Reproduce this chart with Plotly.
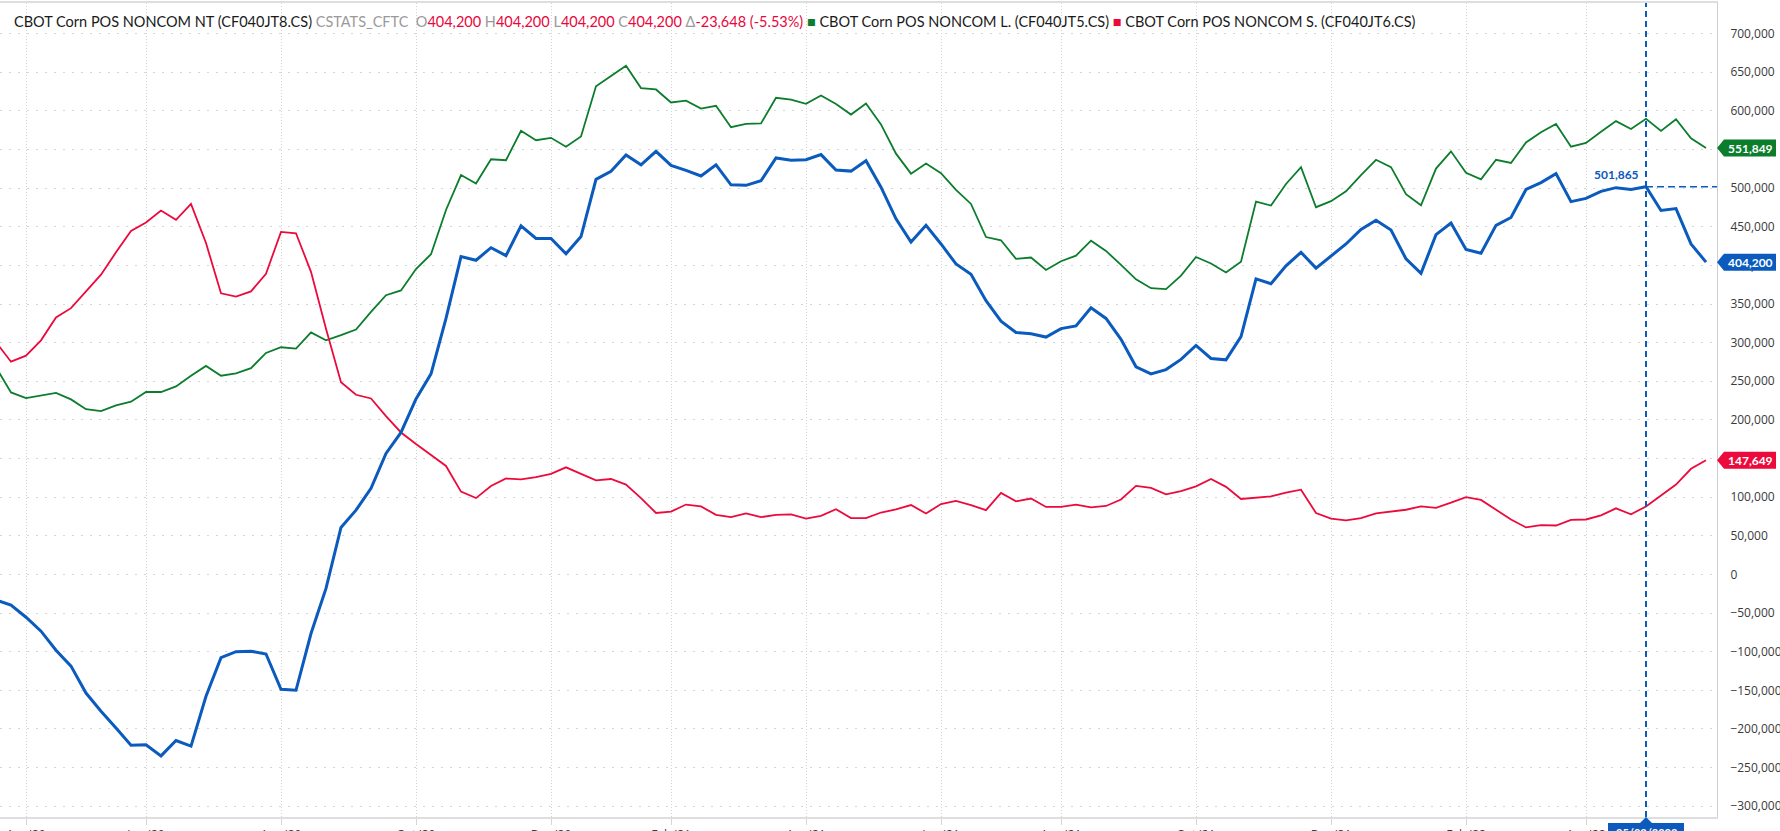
import pandas as pd
import plotly.graph_objects as go

# ---------------- data (weekly, Tuesdays) ----------------
dates = pd.date_range("2020-03-24", periods=115, freq="7D")

net_positions = [
    -33000, -39800, -55400, -73500, -98200, -118700, -153600, -177100, -198800, -221100,
    -220500, -234900, -215000, -222300, -157800, -107800, -100000, -99400, -103000, -148800,
    -150000, -76500, -18100, 60800, 83100, 111400, 156600, 183700, 227100, 259600,
    331300, 411400, 406600, 422900, 412600, 451200, 434900, 434900, 415100, 437300,
    511400, 521700, 542800, 530100, 547600, 529500, 522900, 515700, 530100, 504200,
    503600, 509600, 539100, 536100, 536700, 543400, 523500, 522000, 535500, 501200,
    460200, 430100, 451800, 427700, 401800, 388500, 354200, 327700, 313200, 311400,
    307200, 318100, 321700, 345200, 331300, 304200, 268700, 259600, 265100, 278300,
    296400, 279500, 277700, 307800, 382500, 376200, 399400, 416900, 396400, 412000,
    427700, 446400, 458400, 445800, 408400, 389800, 439800, 454800, 420500, 415700,
    451800, 462000, 498200, 507200, 518700, 482500, 486700, 495800, 500600, 498200,
    501865, 471100, 473500, 427848, 404200,
]

long_positions = [
    268000, 235500, 228300, 231900, 234900, 226500, 213900, 211400, 218700, 223500,
    236100, 236100, 243400, 257200, 269900, 257200, 260200, 266900, 286700, 294000,
    292200, 313200, 303000, 309600, 316900, 339800, 361400, 367500, 395200, 414500,
    471700, 516900, 506000, 537300, 536100, 574100, 562000, 565100, 553600, 566900,
    631900, 645200, 658400, 629500, 627700, 610800, 613200, 603000, 606600, 578900,
    583100, 583700, 616900, 614500, 609000, 619900, 609000, 595200, 609600, 582500,
    544600, 518700, 531900, 519300, 497600, 479500, 436700, 432500, 408400, 410200,
    394000, 405400, 412600, 431900, 418700, 400600, 381900, 370500, 369300, 386700,
    410800, 402400, 390900, 404800, 482500, 477400, 505400, 527100, 475300, 483100,
    495800, 516900, 536700, 527100, 492200, 477700, 525300, 547600, 519900, 511400,
    536700, 532500, 559000, 572300, 583100, 553600, 558400, 572900, 586700, 576500,
    589700, 574100, 589100, 564400, 551849,
]

short_positions = [
    300600, 275300, 283100, 303000, 332500, 344600, 366300, 388000, 416900, 444600,
    455400, 471000, 459000, 479500, 428900, 363800, 359600, 366300, 389200, 443400,
    441600, 391600, 318000, 248800, 232500, 227700, 204800, 183700, 168700, 154800,
    140400, 107200, 98800, 114500, 124100, 122900, 125900, 130100, 138600, 130100,
    121700, 123500, 116300, 98800, 79500, 81300, 90400, 88000, 77100, 74100,
    78900, 74100, 77100, 77700, 72300, 75900, 84300, 72900, 72900, 80100,
    84300, 89800, 78900, 91000, 95200, 89800, 83100, 105400, 94600, 98200,
    87300, 87300, 90400, 86700, 88600, 97000, 114500, 112000, 103600, 107800,
    113900, 123500, 113300, 97600, 99400, 101000, 106000, 109600, 79500, 72300,
    69900, 72900, 78900, 81300, 83700, 88000, 86100, 92800, 100000, 96400,
    84300, 71100, 60800, 63900, 63300, 70500, 71100, 76500, 85500, 77700,
    88000, 102400, 116300, 136700, 147649,
]

tick_dates = ["2020-04-07", "2020-06-02", "2020-08-04", "2020-10-06", "2020-12-08",
              "2021-02-02", "2021-04-06", "2021-06-08", "2021-08-03", "2021-10-05",
              "2021-12-07", "2022-02-08", "2022-04-05"]
tick_labels = ["Apr '20", "Jun '20", "Aug '20", "Oct '20", "Dec '20", "Feb '21", "Apr '21",
               "Jun '21", "Aug '21", "Oct '21", "Dec '21", "Feb '22", "Apr '22"]

cross_date = "2022-05-03"
cross_label = "05/03/2022"
cross_value = 501865

names = ["CBOT Corn POS NONCOM NT (CF040JT8.CS)",
         "CBOT Corn POS NONCOM L. (CF040JT5.CS)",
         "CBOT Corn POS NONCOM S. (CF040JT6.CS)"]

# ---------------- style ----------------
BLUE = "#0a5bbd"
GREEN = "#0b7d2c"
RED = "#ec0a3c"
GRAY_TXT = "#9a9a9a"
Y_RANGE = [-314000, 739600]
ref_day = pd.Timestamp("2020-04-07")
x_start = ref_day - pd.Timedelta(days=26 * 7 / 15)
x_end = ref_day + pd.Timedelta(days=1691 * 7 / 15)

fig = go.Figure()
fig.add_trace(go.Scatter(x=dates, y=long_positions, mode="lines", name=names[1],
                         line=dict(color=GREEN, width=1.8), hoverinfo="skip"))
fig.add_trace(go.Scatter(x=dates, y=short_positions, mode="lines", name=names[2],
                         line=dict(color=RED, width=1.8), hoverinfo="skip"))
fig.add_trace(go.Scatter(x=dates, y=net_positions, mode="lines", name=names[0],
                         line=dict(color=BLUE, width=3), hoverinfo="skip"))

tick_font = dict(family="Open Sans", size=12, color="#3a3a3a")
fig.update_layout(
    width=1780, height=831, autosize=False,
    margin=dict(l=0, r=63, t=3, b=14, autoexpand=False),
    paper_bgcolor="white", plot_bgcolor="white",
    showlegend=False,
    xaxis=dict(type="date", range=[x_start, x_end], tickmode="array",
               tickvals=tick_dates, ticktext=tick_labels, automargin=False,
               showgrid=True, gridcolor="#d4d4d4", gridwidth=1, griddash="1px,2px",
               showline=True, linecolor="#dedede", linewidth=2, mirror=True,
               ticks="outside", ticklen=6, tickcolor="#d6d6d6", tickwidth=1,
               tickfont=tick_font, zeroline=False),
    yaxis=dict(side="right", range=Y_RANGE, tick0=0, dtick=50000, tickformat=",d",
               automargin=False,
               showgrid=True, gridcolor="#d6d6d6", gridwidth=1, griddash="2px,7px",
               zeroline=False, showline=True, linecolor="#cfcfcf", linewidth=1,
               ticks="", ticklabelstandoff=10, tickfont=tick_font),
)

# ---------------- header / legend text ----------------
red_t = "#e8063c"
header = (
    f"<span style='color:#1a1a1a'>{names[0]}</span> "
    f"<span style='color:{GRAY_TXT}'>CSTATS_CFTC</span>  "
    f"<span style='color:{GRAY_TXT}'>O</span><span style='color:{red_t}'>404,200</span> "
    f"<span style='color:{GRAY_TXT}'>H</span><span style='color:{red_t}'>404,200</span> "
    f"<span style='color:{GRAY_TXT}'>L</span><span style='color:{red_t}'>404,200</span> "
    f"<span style='color:{GRAY_TXT}'>C</span><span style='color:{red_t}'>404,200</span> "
    f"<span style='color:{GRAY_TXT}'>Δ</span><span style='color:{red_t}'>-23,648 (-5.53%)</span> "
    f"<span style='color:{GREEN}'>■</span> <span style='color:#1a1a1a'>{names[1]}</span> "
    f"<span style='color:{RED}'>■</span> <span style='color:#1a1a1a'>{names[2]}</span>"
)
fig.add_annotation(x=0, y=1, xref="paper", yref="paper", xanchor="left", yanchor="middle",
                   xshift=12, yshift=-18, showarrow=False, text=header,
                   font=dict(family="Lato", size=14.5, color="#1a1a1a"))

# ---------------- crosshair ----------------
fig.add_shape(type="line", xref="x", yref="paper", x0=cross_date, x1=cross_date, y0=0, y1=1,
              line=dict(color=BLUE, width=2, dash="6px,4px"), layer="above")
fig.add_shape(type="line", xref="x", yref="y", x0=cross_date, x1=x_end,
              y0=cross_value, y1=cross_value,
              line=dict(color=BLUE, width=1.5, dash="7px,4px"), layer="above")
fig.add_annotation(x=cross_date, y=cross_value, xref="x", yref="y", xanchor="right",
                   yanchor="bottom", xshift=-5, yshift=3, showarrow=False,
                   text=f"<b>{cross_value:,}</b>",
                   font=dict(family="Lato", size=12, color=BLUE))
# date flag below axis
fig.add_shape(type="path", xref="x", yref="paper", xsizemode="pixel", ysizemode="pixel",
              xanchor=cross_date, yanchor=0,
              path="M0,0 L6,-6 L38,-6 L38,-30 L-38,-30 L-38,-6 L-6,-6 Z",
              fillcolor=BLUE, line=dict(width=0), layer="above")
fig.add_annotation(x=cross_date, y=0, xref="x", yref="paper", xanchor="center",
                   yanchor="top", yshift=-7, showarrow=False,
                   text=f"<b>{cross_label}</b>",
                   font=dict(family="Lato", size=11, color="white"))

# ---------------- last value flags ----------------
for val, col in [(long_positions[-1], GREEN), (net_positions[-1], BLUE), (short_positions[-1], RED)]:
    fig.add_shape(type="path", xref="paper", yref="y", xsizemode="pixel", ysizemode="pixel",
                  xanchor=1, yanchor=val,
                  path="M0,0 L7,8.5 L59,8.5 L59,-8.5 L7,-8.5 Z",
                  fillcolor=col, line=dict(width=0), layer="above")
    fig.add_annotation(x=1, y=val, xref="paper", yref="y", xanchor="center", yanchor="middle",
                       xshift=33, showarrow=False, text=f"<b>{val:,}</b>",
                       font=dict(family="Lato", size=12, color="white"))

fig.write_html("out.html",
               config={"displayModeBar": False},
               post_script="document.body.style.margin='0';document.body.style.overflow='hidden';")
